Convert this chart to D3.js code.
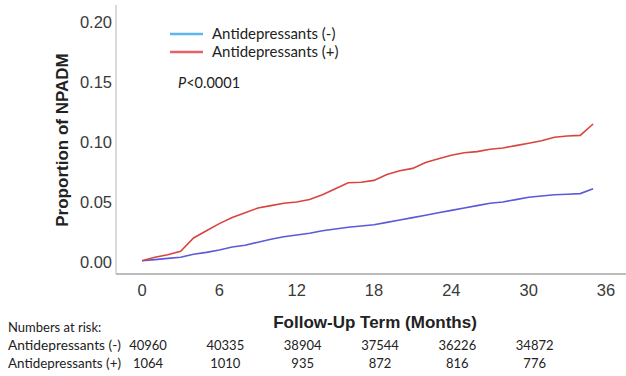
<!DOCTYPE html>
<html><head><meta charset="utf-8">
<script src="https://cdn.jsdelivr.net/npm/d3@7"></script>
<style>body{margin:0;background:#fff}svg{display:block}</style>
</head><body>
<svg id="c" width="626" height="376"></svg>
<script>
const months = d3.range(0, 36);
const negValues = [0.001,0.002,0.003,0.004,0.0065,0.008,0.010,0.0125,0.014,0.0165,0.019,0.021,0.0225,0.024,0.026,0.0275,0.029,0.030,0.031,0.033,0.035,0.037,0.039,0.041,0.043,0.045,0.047,0.049,0.050,0.052,0.054,0.055,0.056,0.0565,0.057,0.061];
const posValues = [0.001,0.004,0.006,0.009,0.020,0.026,0.032,0.037,0.041,0.045,0.047,0.049,0.050,0.052,0.056,0.061,0.066,0.0665,0.068,0.073,0.076,0.078,0.083,0.086,0.089,0.091,0.092,0.094,0.095,0.097,0.099,0.101,0.104,0.105,0.1055,0.115];
const xTicks = [0,6,12,18,24,30,36];
const yTicks = [0,0.05,0.10,0.15,0.20];
const seriesNames = ["Antidepressants (-)","Antidepressants (+)"];
const riskMonths = [0,6,12,18,24,30];
const riskNeg = [40960,40335,38904,37544,36226,34872];
const riskPos = [1064,1010,935,872,816,776];

const svg = d3.select("#c");
const x = d3.scaleLinear().domain([0,36]).range([142,606]);
const y = d3.scaleLinear().domain([0,0.2]).range([262,22]);
const af = "Liberation Sans, Arial, sans-serif";

// axis lines
svg.append("line").attr("x1",116).attr("x2",116).attr("y1",5).attr("y2",274).attr("stroke","#cfcfcf").attr("stroke-width",1.5);
svg.append("line").attr("x1",116).attr("x2",626).attr("y1",274).attr("y2",274).attr("stroke","#bdbdbd").attr("stroke-width",2);

// y ticks
svg.append("g").selectAll("text").data(yTicks).join("text")
  .attr("x",112).attr("y",d=>y(d)).attr("dy","0.36em").attr("text-anchor","end")
  .attr("font-family",af).attr("font-size",16.5).attr("fill","#3a3a3a")
  .text(d=>d3.format(".2f")(d));
// x ticks
svg.append("g").selectAll("text").data(xTicks).join("text")
  .attr("x",d=>x(d)).attr("y",296).attr("text-anchor","middle")
  .attr("font-family",af).attr("font-size",16.5).attr("fill","#3a3a3a")
  .text(d=>d);

// titles
svg.append("text").attr("transform","translate(68,140) rotate(-90)").attr("text-anchor","middle")
  .attr("font-family",af).attr("font-size",17).attr("font-weight","bold").attr("fill","#222")
  .text("Proportion of NPADM");
svg.append("text").attr("x",375).attr("y",328).attr("text-anchor","middle")
  .attr("font-family",af).attr("font-size",17).attr("font-weight","bold").attr("fill","#222")
  .text("Follow-Up Term (Months)");

// lines
const line = d3.line().x((d,i)=>x(months[i])).y(d=>y(d));
svg.append("path").datum(negValues).attr("d",line).attr("fill","none").attr("stroke","#5b5ad8").attr("stroke-width",1.6);
svg.append("path").datum(posValues).attr("d",line).attr("fill","none").attr("stroke","#d9443f").attr("stroke-width",1.6);

// legend
const legColors = ["#5db7ee","#e8616a"];
const lg = svg.append("g");
seriesNames.forEach((n,i)=>{
  const yy = 34 + i*18;
  lg.append("line").attr("x1",170).attr("x2",203).attr("y1",yy).attr("y2",yy).attr("stroke",legColors[i]).attr("stroke-width",2.5);
  lg.append("text").attr("x",212).attr("y",yy).attr("dy","0.35em")
    .attr("font-family","Lato, sans-serif").attr("font-size",15).attr("fill","#222").text(n);
});
const pt = svg.append("text").attr("x",178).attr("y",83).attr("dy","0.35em")
  .attr("font-family","Lato, sans-serif").attr("font-size",14.5).attr("fill","#222");
pt.append("tspan").attr("font-style","italic").text("P");
pt.append("tspan").text("<0.0001");

// numbers at risk
const tf = "Lato, sans-serif";
const fs = 13;
svg.append("text").attr("x",8).attr("y",332).attr("font-family",tf).attr("font-size",fs).attr("fill","#222").text("Numbers at risk:");
[riskNeg, riskPos].forEach((arr,j)=>{
  const yy = 350 + j*18;
  svg.append("text").attr("x",8).attr("y",yy).attr("font-family",tf).attr("font-size",fs).attr("fill","#222")
    .attr("textLength",113).attr("lengthAdjust","spacingAndGlyphs").text(seriesNames[j]);
  svg.append("g").selectAll("text").data(arr).join("text")
    .attr("x",(d,i)=>x(riskMonths[i])+6).attr("y",yy).attr("text-anchor","middle")
    .attr("font-family",tf).attr("font-size",fs).attr("fill","#222").text(d=>d);
});
</script>
</body></html>
